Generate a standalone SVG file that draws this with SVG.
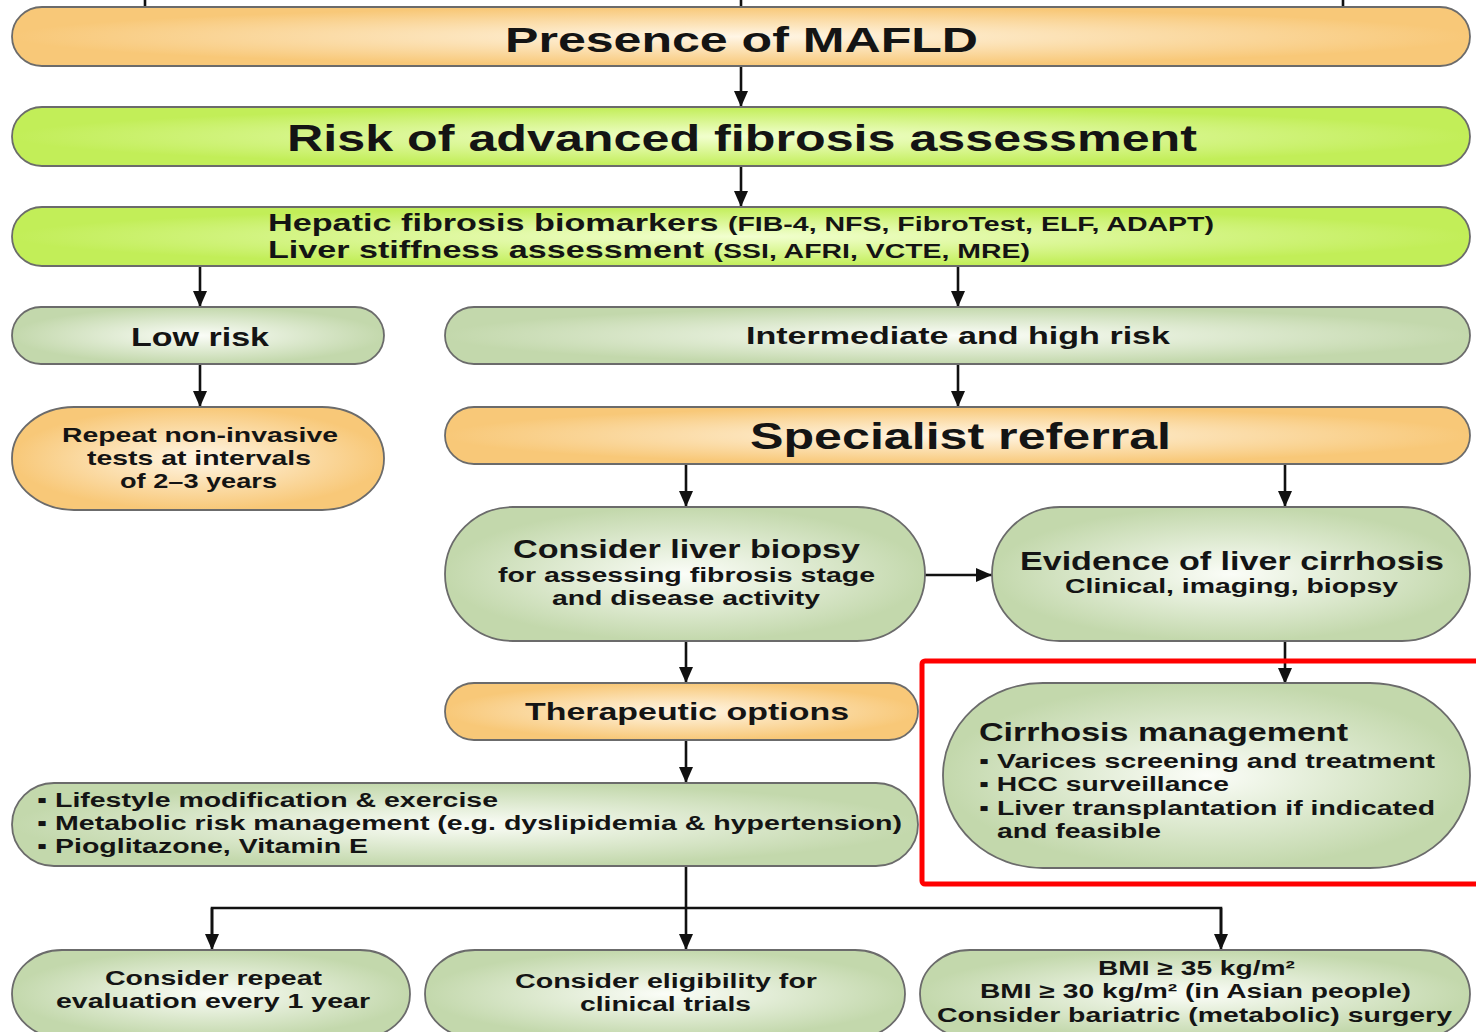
<svg xmlns="http://www.w3.org/2000/svg" width="1476" height="1032" viewBox="0 0 1476 1032">
<defs>
<radialGradient id="gOr" cx="50%" cy="50%" r="50%" fx="50%" fy="50%" gradientTransform="translate(0.5 0.5) scale(1 1) translate(-0.5 -0.5)">
<stop offset="0" stop-color="#fff6e6"/><stop offset="1" stop-color="#f8c878"/></radialGradient>
<radialGradient id="gLi" cx="50%" cy="50%" r="50%">
<stop offset="0" stop-color="#f2ffd0"/><stop offset="1" stop-color="#c2ee58"/></radialGradient>
<radialGradient id="gPg" cx="50%" cy="50%" r="50%">
<stop offset="0" stop-color="#fbfdf8"/><stop offset="1" stop-color="#c3d8ac"/></radialGradient>
<marker id="ah" viewBox="0 0 16 14" refX="16" refY="7" markerWidth="16" markerHeight="14" markerUnits="userSpaceOnUse" orient="auto">
<path d="M0,0 L16,7 L0,14 Z" fill="#111"/></marker>
</defs>
<style>
.n{stroke:#6b6b6b;stroke-width:1.8}
.or{fill:url(#gOr)}.li{fill:url(#gLi)}.pg{fill:url(#gPg)}
text{font-family:"Liberation Sans",Arial,sans-serif;font-weight:bold;fill:#141414}
.c{stroke:#111;stroke-width:2.6;fill:none}
.ca{stroke:#111;stroke-width:2.6;fill:none;marker-end:url(#ah)}
</style>
<rect width="1476" height="1032" fill="#fff"/>

<g id="connectors">
<line class="c" x1="145" y1="0" x2="145" y2="7"/>
<line class="c" x1="741" y1="0" x2="741" y2="7"/>
<line class="c" x1="1343" y1="0" x2="1343" y2="7"/>
<line class="ca" x1="741" y1="66" x2="741" y2="107"/>
<line class="ca" x1="741" y1="166" x2="741" y2="207"/>
<line class="ca" x1="200" y1="266" x2="200" y2="307"/>
<line class="ca" x1="958" y1="266" x2="958" y2="307"/>
<line class="ca" x1="200" y1="364" x2="200" y2="407"/>
<line class="ca" x1="958" y1="364" x2="958" y2="407"/>
<line class="ca" x1="686" y1="464" x2="686" y2="507"/>
<line class="ca" x1="1285" y1="464" x2="1285" y2="507"/>
<line class="ca" x1="925" y1="575" x2="992" y2="575"/>
<line class="ca" x1="686" y1="641" x2="686" y2="683"/>
<line class="ca" x1="1285" y1="641" x2="1285" y2="684"/>
<line class="ca" x1="686" y1="740" x2="686" y2="783"/>
<line class="c" x1="686" y1="866" x2="686" y2="908"/>
<polyline class="c" points="212,947 212,908 1221,908 1221,947"/>
<line class="ca" x1="212" y1="908" x2="212" y2="950"/>
<line class="ca" x1="686" y1="908" x2="686" y2="950"/>
<line class="ca" x1="1221" y1="908" x2="1221" y2="950"/>
</g>

<g id="n-presence">
<rect class="n or" x="12" y="7" width="1458" height="59" rx="30"/>
<text x="505" y="52" font-size="35" textLength="473" lengthAdjust="spacingAndGlyphs">Presence of MAFLD</text>
</g>
<g id="n-risk">
<rect class="n li" x="12" y="107" width="1458" height="59" rx="30"/>
<text x="287" y="151" font-size="36" textLength="910" lengthAdjust="spacingAndGlyphs">Risk of advanced fibrosis assessment</text>
</g>
<g id="n-biomarkers">
<rect class="n li" x="12" y="207" width="1458" height="59" rx="30"/>
<text x="268" y="231" font-size="24" textLength="946" lengthAdjust="spacingAndGlyphs">Hepatic fibrosis biomarkers <tspan font-size="20">(FIB-4, NFS, FibroTest, ELF, ADAPT)</tspan></text>
<text x="268" y="258" font-size="24" textLength="762" lengthAdjust="spacingAndGlyphs">Liver stiffness assessment <tspan font-size="20">(SSI, AFRI, VCTE, MRE)</tspan></text>
</g>
<g id="n-low">
<rect class="n pg" x="12" y="307" width="372" height="57" rx="29"/>
<text x="131" y="346" font-size="26" textLength="138" lengthAdjust="spacingAndGlyphs">Low risk</text>
</g>
<g id="n-inter">
<rect class="n pg" x="445" y="307" width="1025" height="57" rx="29"/>
<text x="746" y="344" font-size="24" textLength="424" lengthAdjust="spacingAndGlyphs">Intermediate and high risk</text>
</g>
<g id="n-repeat">
<rect class="n or" x="12" y="407" width="372" height="103" rx="62" ry="51"/>
<text x="62" y="442" font-size="21" textLength="276" lengthAdjust="spacingAndGlyphs">Repeat non-invasive</text>
<text x="87" y="465" font-size="21" textLength="224" lengthAdjust="spacingAndGlyphs">tests at intervals</text>
<text x="120" y="488" font-size="21" textLength="157" lengthAdjust="spacingAndGlyphs">of 2–3 years</text>
</g>
<g id="n-specialist">
<rect class="n or" x="445" y="407" width="1025" height="57" rx="29"/>
<text x="750" y="449" font-size="36" textLength="421" lengthAdjust="spacingAndGlyphs">Specialist referral</text>
</g>
<g id="n-biopsy">
<rect class="n pg" x="445" y="507" width="480" height="134" rx="68" ry="67"/>
<text x="513" y="558" font-size="25" textLength="347" lengthAdjust="spacingAndGlyphs">Consider liver biopsy</text>
<text x="498" y="582" font-size="20" textLength="377" lengthAdjust="spacingAndGlyphs">for assessing fibrosis stage</text>
<text x="552" y="605" font-size="20" textLength="268" lengthAdjust="spacingAndGlyphs">and disease activity</text>
</g>
<g id="n-evidence">
<rect class="n pg" x="992" y="507" width="478" height="134" rx="68" ry="67"/>
<text x="1020" y="570" font-size="25" textLength="424" lengthAdjust="spacingAndGlyphs">Evidence of liver cirrhosis</text>
<text x="1065" y="593" font-size="20" textLength="333" lengthAdjust="spacingAndGlyphs">Clinical, imaging, biopsy</text>
</g>
<g id="n-therapeutic">
<rect class="n or" x="445" y="683" width="473" height="57" rx="29"/>
<text x="525" y="720" font-size="24" textLength="324" lengthAdjust="spacingAndGlyphs">Therapeutic options</text>
</g>
<g id="n-cirrhosis">
<rect class="n pg" x="943" y="683" width="527" height="185" rx="100" ry="92"/>
<text x="979" y="741" font-size="25" textLength="369" lengthAdjust="spacingAndGlyphs">Cirrhosis management</text>
<text x="979" y="768" font-size="20" textLength="456" lengthAdjust="spacingAndGlyphs">▪ Varices screening and treatment</text>
<text x="979" y="791" font-size="20" textLength="250" lengthAdjust="spacingAndGlyphs">▪ HCC surveillance</text>
<text x="979" y="815" font-size="20" textLength="456" lengthAdjust="spacingAndGlyphs">▪ Liver transplantation if indicated</text>
<text x="997" y="838" font-size="20" textLength="164" lengthAdjust="spacingAndGlyphs">and feasible</text>
</g>
<g id="n-lifestyle">
<rect class="n pg" x="12" y="783" width="906" height="83" rx="42"/>
<text x="37" y="807" font-size="20" textLength="461" lengthAdjust="spacingAndGlyphs">▪ Lifestyle modification &amp; exercise</text>
<text x="37" y="830" font-size="20" textLength="865" lengthAdjust="spacingAndGlyphs">▪ Metabolic risk management (e.g. dyslipidemia &amp; hypertension)</text>
<text x="37" y="853" font-size="20" textLength="331" lengthAdjust="spacingAndGlyphs">▪ Pioglitazone, Vitamin E</text>
</g>
<g id="n-repeat-eval">
<rect class="n pg" x="12" y="950" width="398" height="88" rx="50" ry="44"/>
<text x="105" y="985" font-size="20" textLength="217" lengthAdjust="spacingAndGlyphs">Consider repeat</text>
<text x="56" y="1008" font-size="20" textLength="314" lengthAdjust="spacingAndGlyphs">evaluation every 1 year</text>
</g>
<g id="n-trials">
<rect class="n pg" x="425" y="950" width="480" height="88" rx="50" ry="44"/>
<text x="515" y="988" font-size="20" textLength="302" lengthAdjust="spacingAndGlyphs">Consider eligibility for</text>
<text x="580" y="1011" font-size="20" textLength="171" lengthAdjust="spacingAndGlyphs">clinical trials</text>
</g>
<g id="n-bmi">
<rect class="n pg" x="920" y="950" width="550" height="88" rx="50" ry="44"/>
<text x="1098" y="975" font-size="20" textLength="197" lengthAdjust="spacingAndGlyphs">BMI ≥ 35 kg/m²</text>
<text x="980" y="998" font-size="20" textLength="431" lengthAdjust="spacingAndGlyphs">BMI ≥ 30 kg/m² (in Asian people)</text>
<text x="937" y="1022" font-size="20" textLength="515" lengthAdjust="spacingAndGlyphs">Consider bariatric (metabolic) surgery</text>
</g>

<g id="highlight">
<rect x="922" y="661" width="570" height="223" rx="3" fill="none" stroke="#ff0000" stroke-width="5"/>
</g>
</svg>
